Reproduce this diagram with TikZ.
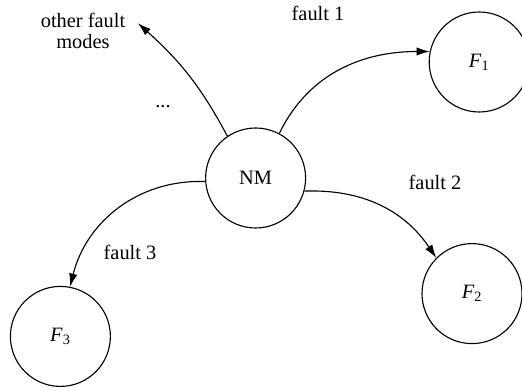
\documentclass[tikz,border=0pt]{standalone}
\usepackage{fontspec}
\setmainfont{Liberation Serif}
\usetikzlibrary{arrows.meta,positioning}

\newcommand{\fmode}[1]{\textit{F}\textsubscript{#1}}

\begin{document}
\begin{tikzpicture}[
    font=\fontsize{14.5}{17}\selectfont,
    mode/.style={circle, draw, line width=0.8pt, minimum size=2.5cm, inner sep=0pt},
    trans/.style={-{Latex[length=3.3mm,width=2.1mm]}, line width=0.8pt}
]
            \useasboundingbox (0,0) rectangle (13.05,9.75);

            % Modes
            \node[mode] (NM) at (6.39,5.3) {NM};
            \foreach \n/\x/\y in {1/11.98/8.2, 2/11.8/2.41, 3/1.51/1.34} {
                \node[mode] (F\n) at (\x,\y) {\fmode{\n}};
            }
            \coordinate (other) at (3.45,9.17);

            % Transitions
            \draw[trans] (NM.62) to[out=64, in=180] (F1.168);
            \draw[trans] (NM.-15) to[out=2, in=124] (F2.135);
            \draw[trans] (NM.184) to[out=178, in=76] (F3.79);
            \draw[trans] (NM.124) to[out=118, in=-42] (other);

            % Labels
            \node[align=center] (otherlbl) at (2.075,8.97) {other fault\\[-2pt]modes};
            \node[anchor=base] (dots) at (4.075,7.06) {...};
            \node (lbl1) at (7.95,9.42) {fault 1};
            \node (lbl2) at (10.875,5.2) {fault 2};
            \node (lbl3) at (3.25,3.43) {fault 3};
        \end{tikzpicture}
\end{document}
